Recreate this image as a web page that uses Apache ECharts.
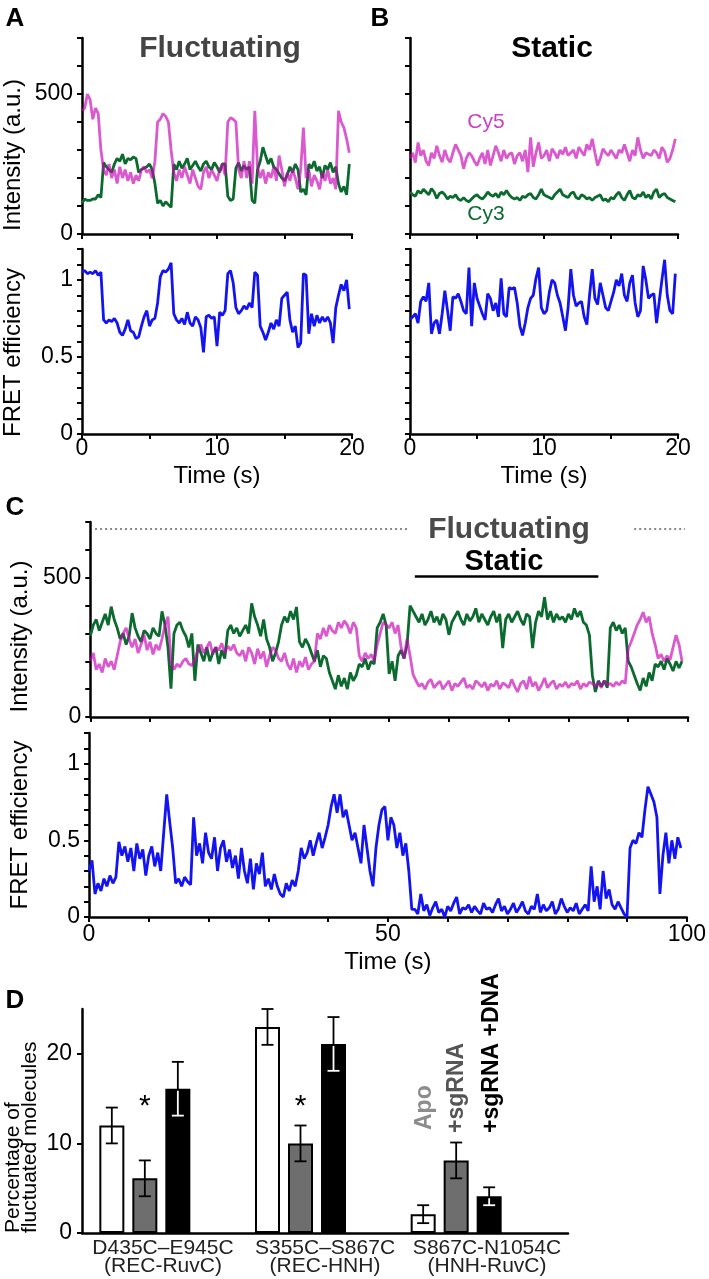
<!DOCTYPE html>
<html>
<head>
<meta charset="utf-8">
<script src="https://cdn.jsdelivr.net/npm/echarts@6/dist/echarts.min.js"></script>
<style>
html, body { margin: 0; padding: 0; background: #fff; }
#chart { width: 709px; height: 1279px; }
</style>
</head>
<body>
<div id="chart"></div>
<script>
// ---- data ----
// A / B traces: one point every 0.2 s, C traces: one point every 0.5 s
const stepAB = 0.2
const stepC = 0.5

const fluctCy5 = [440,450,500,480,410,450,430,300,230,210,
  250,200,230,180,240,200,230,190,220,180,
  210,190,230,240,220,230,200,260,400,410,
  430,420,400,300,220,190,230,200,240,210,
  180,230,200,170,160,220,240,200,230,210,
  190,230,250,210,400,415,410,400,230,200,
  260,200,260,180,440,240,200,230,180,220,
  200,240,190,280,230,170,220,190,230,200,
  160,230,380,200,230,170,210,190,160,220,
  190,230,180,200,160,440,400,380,340,290]
const fluctCy3 = [110,125,120,120,125,125,140,130,255,240,
  230,220,250,270,260,285,250,270,265,275,
  270,220,230,235,240,250,230,180,110,120,
  100,115,105,95,250,230,260,235,250,270,
  230,245,260,240,225,250,260,240,230,255,
  240,220,250,250,135,120,125,235,255,225,
  245,230,240,120,110,230,260,310,280,250,
  270,240,230,215,200,190,210,240,220,250,
  230,150,160,140,250,235,260,225,240,200,
  245,230,255,220,240,180,150,170,140,250]
const fluctFret = [1.05,1.06,1.04,1.05,1.04,1.06,1.03,1.05,0.74,0.72,
  0.74,0.73,0.75,0.72,0.66,0.64,0.68,0.74,0.67,0.66,
  0.62,0.63,0.70,0.76,0.80,0.70,0.74,0.75,0.85,1.02,
  1.06,1.05,1.07,1.11,0.78,0.74,0.72,0.75,0.71,0.79,
  0.72,0.70,0.76,0.74,0.69,0.53,0.76,0.77,0.75,0.76,
  0.57,0.79,0.77,0.80,1.04,1.06,0.98,0.82,0.78,0.80,
  0.83,0.81,0.85,0.82,1.05,1.03,0.70,0.66,0.61,0.66,
  0.72,0.68,0.74,0.70,0.88,0.90,0.92,0.74,0.66,0.70,
  0.56,0.59,1.04,1.03,0.65,0.78,0.70,0.77,0.72,0.76,
  0.73,0.76,0.72,0.59,0.82,0.90,0.97,0.93,1.00,0.81]

const staticCy5 = [270,290,255,327,280,300,260,245,290,270,
  315,280,256,300,270,256,290,320,300,280,
  233,270,290,280,260,245,270,290,250,300,
  245,280,315,290,260,300,270,285,290,250,
  280,290,260,300,221,345,240,290,327,270,
  280,300,260,304,290,270,300,285,310,280,
  290,300,270,310,295,280,320,300,340,290,
  245,270,304,290,280,300,285,270,300,290,
  320,290,260,300,280,345,300,270,290,285,
  280,300,290,270,310,295,256,270,300,340]
const staticCy3 = [150,140,135,155,145,160,150,140,162,150,
  127,145,150,140,125,135,130,140,125,120,
  130,120,115,125,135,140,130,125,135,150,
  140,135,145,130,150,140,155,140,130,125,
  130,120,135,130,140,145,130,125,140,160,
  140,135,130,125,140,150,160,140,135,130,
  145,150,130,125,140,135,125,130,120,130,
  135,140,120,125,115,130,125,140,150,130,
  120,140,155,130,125,140,135,150,130,140,
  125,150,160,130,140,145,130,125,120,115]
const staticFret = [0.74,0.76,0.78,0.72,0.86,0.89,0.86,0.98,0.65,0.72,
  0.74,0.65,0.78,0.93,0.80,0.67,0.89,0.88,0.91,0.86,
  0.80,0.78,1.08,0.70,0.98,0.88,0.83,0.78,0.74,0.91,
  0.88,0.80,0.85,0.76,1.01,0.78,0.76,0.95,0.94,0.95,
  0.85,0.70,0.64,0.72,0.82,0.88,0.90,1.01,1.08,0.82,
  0.78,0.80,0.92,1.00,0.98,0.90,0.85,0.76,0.67,0.82,
  1.07,0.90,0.83,0.85,0.86,0.76,0.71,0.90,1.07,0.88,
  0.84,0.98,0.90,0.82,0.80,0.86,0.92,1.00,0.96,1.04,
  0.90,0.86,0.98,1.03,0.85,0.76,0.80,1.09,1.00,0.88,
  0.90,0.91,0.72,0.86,1.00,1.13,0.90,0.80,0.78,1.04]

const longCy3 = [290,330,350,310,340,370,330,396,350,320,
  280,300,260,290,
  373,320,290,270,310,300,
  280,320,300,290,
  379,330,250,
  102,
  300,330,340,310,
  290,250,300,130,
  260,230,200,250,
  200,230,250,190,240,210,
  310,330,300,320,
  290,310,330,300,408,360,
  330,290,350,280,
  250,200,230,270,
  330,360,340,380,350,395,
  270,250,280,260,
  230,200,240,180,220,210,
  160,130,100,150,110,140,100,160,130,150,
  190,180,210,170,200,190,
  320,340,370,330,
  155,200,130,220,
  240,210,260,
  400,380,
  360,340,370,330,350,380,340,360,330,370,350,295,340,360,380,350,330,370,345,360,390,340,370,350,330,360,380,340,370,247,350,
  370,340,360,380,350,330,370,360,247,340,380,360,430,350,380,340,370,350,360,340,
  370,350,390,360,380,340,
  330,295,
  150,90,130,
  110,130,105,
  320,340,310,330,300,320,
  200,180,
  150,120,95,140,110,160,130,190,
  180,200,170,210,190,165,200,176,200]
const longCy5 = [200,230,170,190,160,210,180,200,170,220,
  270,300,320,280,
  250,280,230,260,295,240,270,225,260,240,
  280,330,360,
  200,170,190,
  180,200,210,190,185,205,
  240,260,230,250,270,225,250,240,265,230,255,240,260,230,
  220,240,200,250,230,190,245,210,235,180,220,250,240,210,200,230,
  190,170,210,160,200,180,215,170,190,200,
  300,280,320,290,330,310,300,340,
  320,345,330,300,340,320,
  220,200,230,210,225,200,
  260,300,340,330,
  320,340,300,330,
  250,210,280,220,
  153,
  130,110,120,100,125,135,105,118,128,100,
  115,130,95,120,110,125,140,105,115,100,
  130,120,108,125,95,118,110,130,100,122,
  115,105,135,110,90,120,130,100,145,110,
  125,95,115,140,105,120,130,100,118,110,
  125,105,120,115,130,100,120,110,125,
  120,110,125,105,130,115,120,110,125,115,130,120,
  245,270,300,330,
  350,376,340,360,300,260,
  210,225,200,220,205,
  250,294,260,200]
const longFret = [0.30,0.37,
  0.15,0.22,0.17,0.25,
  0.20,0.27,0.22,0.26,
  0.49,0.40,0.46,0.36,
  0.45,0.30,0.48,0.38,0.44,0.27,0.40,0.46,0.33,0.42,
  0.30,0.55,
  0.80,0.62,
  0.45,
  0.22,0.25,0.20,0.26,0.23,0.21,
  0.65,
  0.40,0.48,0.35,0.55,0.42,0.38,0.52,0.30,0.45,0.50,0.36,0.44,
  0.32,0.40,0.25,0.45,0.30,0.22,0.38,0.18,0.35,0.28,0.42,0.20,
  0.25,0.18,0.28,0.20,0.15,0.13,0.22,0.17,0.24,0.20,
  0.30,0.45,
  0.38,0.42,0.50,0.40,0.48,0.55,0.45,0.52,
  0.60,0.72,0.80,0.68,0.80,
  0.65,0.70,0.60,
  0.50,0.55,0.45,0.35,
  0.60,0.45,0.30,0.20,
  0.45,0.60,0.70,0.72,
  0.50,0.65,0.60,0.45,
  0.55,0.40,0.48,
  0.30,0.05,
  0.05,0.02,0.15,0.04,0.08,0.01,0.06,0.10,0.03,0.05,
  0.00,0.07,0.04,0.09,0.13,0.02,0.06,0.05,0.08,0.03,
  0.07,0.04,0.02,0.09,0.05,0.06,0.03,0.08,0.12,0.04,
  0.07,0.02,0.05,0.09,0.03,0.06,0.10,0.04,0.02,0.07,
  0.05,0.15,0.03,0.08,0.04,0.06,0.10,0.02,0.05,0.12,
  0.07,0.03,0.06,0.04,0.09,0.02,0.05,0.08,0.04,
  0.33,0.10,0.20,0.05,0.30,0.12,0.18,
  0.08,0.05,0.10,0.06,0.02,
  0.00,
  0.45,0.50,0.48,0.55,0.52,0.70,
  0.85,0.80,0.75,0.65,
  0.15,
  0.40,0.55,0.35,0.50,0.38,0.52,0.45]

// annotation spans in panel C (seconds) and their heights (a.u.)
const fluctSpans = [[0.8, 53], [91, 99.5]]
const staticSpan = [54.3, 85]
const fluctLevel = 676
const staticLevel = 507

// panel D
const constructs = ['D435C–E945C\n(REC-RuvC)', 'S355C–S867C\n(REC-HNH)', 'S867C-N1054C\n(HNH-RuvC)']
const apo = [12, 23, 2.1]
const apoErr = [2, 2, 1]
const sgRNA = [6.1, 10, 8.1]
const sgRNAErr = [2, 2, 2]
const sgRNADNA = [16.1, 21.1, 4.1]
const sgRNADNAErr = [3, 3, 1]
const starred = [true, true, false]
const starLevel = 15

// ---- styles ----
const FONT = '"Liberation Sans", Arial, Helvetica, sans-serif'
const PINK = 'rgba(200,0,180,0.65)'
const GREEN = '#0b6a2e'
const BLUE = '#1414f0'
const BAR_W = 25
const BAR_PITCH = 33

function toPairs(values, step) {
  return values.map((v, i) => [+(i * step).toFixed(2), v])
}

function labelOnly(list) {
  return (v) => (list.some((l) => Math.abs(l - v) < 1e-6) ? String(v) : '')
}

const axisLine = { show: true, onZero: false, lineStyle: { color: '#000', width: 2.5 } }
const axisTick = { show: true, length: 5, lineStyle: { color: '#000', width: 2 } }

function timeAxis(grid, max, interval, labels, margin, nameGap) {
  return {
    type: 'value', gridIndex: grid, min: 0, max, interval,
    axisLine, axisTick,
    axisLabel: {
      show: !!labels, margin, color: '#000', fontSize: 23, fontFamily: FONT,
      formatter: labels ? labelOnly(labels) : ''
    },
    splitLine: { show: false },
    name: labels ? 'Time (s)' : '',
    nameLocation: 'middle', nameGap,
    nameTextStyle: { color: '#000', fontSize: 24, fontFamily: FONT }
  }
}

function levelAxis(grid, max, interval, labels, name, shift) {
  return {
    type: 'value', gridIndex: grid, min: 0, max, interval,
    axisLine, axisTick,
    axisLabel: {
      show: !!labels, margin: 9, color: '#000', fontSize: 23, fontFamily: FONT,
      formatter: labels ? labelOnly(labels) : ''
    },
    splitLine: { show: false },
    name: name || '',
    nameLocation: 'middle', nameGap: 57, nameRotate: 90,
    nameTextStyle: { color: '#000', fontSize: 24, fontFamily: FONT, padding: [0, shift * 2, 0, 0] }
  }
}

function trace(grid, values, step, color, z) {
  return {
    type: 'line', xAxisIndex: grid, yAxisIndex: grid,
    data: toPairs(values, step),
    showSymbol: false, symbol: 'none', z,
    lineStyle: { color, width: 2.8 },
    silent: true
  }
}

const grids = [
  { left: 81, top: 38, width: 271, height: 196 },   // A intensity
  { left: 81, top: 249, width: 271, height: 185 },  // A FRET
  { left: 410, top: 38, width: 268, height: 196 },  // B intensity
  { left: 410, top: 249, width: 268, height: 185 }, // B FRET
  { left: 80, top: 522, width: 608, height: 195 },  // C intensity
  { left: 80, top: 733, width: 608, height: 184 },  // C FRET
  { left: 82, top: 1009, width: 486, height: 224 }, // D axes
  { left: 67, top: 1009, width: 467, height: 224 }  // D bars
]

const xAxes = [
  timeAxis(0, 20, 5, null, 0, 0),
  timeAxis(1, 20, 5, [0, 10, 20], 3, 30),
  timeAxis(2, 20, 5, null, 0, 0),
  timeAxis(3, 20, 5, [0, 10, 20], 3, 30),
  timeAxis(4, 100, 10, null, 0, 0),
  timeAxis(5, 100, 10, [0, 50, 100], 6, 33),
  {
    type: 'category', gridIndex: 6, data: constructs,
    axisLine, axisTick: { show: false },
    axisLabel: { interval: 0, margin: 6, color: '#222', fontSize: 21, lineHeight: 18, fontFamily: FONT }
  },
  { type: 'category', gridIndex: 7, data: constructs, show: false }
]

const yAxes = [
  levelAxis(0, 700, 100, [0, 500], 'Intensity (a.u.)', 19),
  levelAxis(1, 1.2, 0.1, [0, 0.5, 1], 'FRET efficiency', 11),
  levelAxis(2, 700, 100, null, '', 0),
  levelAxis(3, 1.2, 0.1, null, '', 0),
  levelAxis(4, 700, 100, [0, 500], 'Intensity (a.u.)', 17),
  levelAxis(5, 1.2, 0.1, [0, 0.5, 1], 'FRET efficiency', 0),
  {
    type: 'value', gridIndex: 6, min: 0, max: 25,
    axisLine,
    axisTick: { show: true, length: 5, customValues: [0, 10, 20], lineStyle: { color: '#000', width: 2 } },
    axisLabel: { margin: 10, color: '#000', fontSize: 23, fontFamily: FONT, customValues: [0, 10, 20] },
    splitLine: { show: false }
  },
  { type: 'value', gridIndex: 7, min: 0, max: 25, show: false }
]

// error bar rows: [group, low, high, value, condition, starred]
const errRows = []
;[[apo, apoErr], [sgRNA, sgRNAErr], [sgRNADNA, sgRNADNAErr]].forEach(([vals, errs], k) => {
  vals.forEach((v, i) => {
    errRows.push([i, v - errs[i], v + errs[i], v, k, k === 1 && starred[i] ? 1 : 0])
  })
})

function renderErr(params, api) {
  const cat = api.value(0)
  const k = api.value(4)
  const x = api.coord([cat, 0])[0] + (k - 1) * BAR_PITCH
  const yLo = api.coord([cat, api.value(1)])[1]
  const yHi = api.coord([cat, api.value(2)])[1]
  const yVal = api.coord([cat, api.value(3)])[1]
  const cap = 6
  const seg = (x1, y1, x2, y2, color) => ({
    type: 'line', shape: { x1, y1, x2, y2 },
    style: { stroke: color, lineWidth: 1.8 }
  })
  const children = [
    seg(x, yLo, x, yHi, '#000'),
    seg(x - cap, yLo, x + cap, yLo, '#000'),
    seg(x - cap, yHi, x + cap, yHi, '#000')
  ]
  if (k === 2) {
    // part hidden inside the black bar is drawn white
    children.push(seg(x, yLo, x, Math.max(yVal + 2, yHi), '#fff'))
    children.push(seg(x - cap, yLo, x + cap, yLo, '#fff'))
  }
  if (api.value(5)) {
    const yStar = api.coord([cat, starLevel])[1]
    children.push({
      type: 'text',
      style: { text: '*', x, y: yStar + 8, fill: '#000', font: '30px ' + FONT, align: 'center', verticalAlign: 'middle' }
    })
  }
  return { type: 'group', children }
}

const barStyle = (fill) => ({ color: fill, borderColor: '#000', borderWidth: 2 })

const series = [
  trace(0, fluctCy3, stepAB, GREEN, 2),
  trace(0, fluctCy5, stepAB, PINK, 3),
  trace(1, fluctFret, stepAB, BLUE, 2),
  trace(2, staticCy3, stepAB, GREEN, 2),
  trace(2, staticCy5, stepAB, PINK, 3),
  trace(3, staticFret, stepAB, BLUE, 2),
  trace(4, longCy3, stepC, GREEN, 2),
  Object.assign(trace(4, longCy5, stepC, PINK, 3), {
    markLine: {
      symbol: 'none', silent: true, label: { show: false }, animation: false,
      data: fluctSpans.map((s) => [
        { coord: [s[0], fluctLevel], lineStyle: { type: [2, 3], color: '#888', width: 2 } },
        { coord: [s[1], fluctLevel] }
      ]).concat([[
        { coord: [staticSpan[0], staticLevel], lineStyle: { type: 'solid', color: '#000', width: 2.5 } },
        { coord: [staticSpan[1], staticLevel] }
      ]])
    }
  }),
  trace(5, longFret, stepC, BLUE, 2),
  { type: 'bar', xAxisIndex: 7, yAxisIndex: 7, data: apo, barWidth: BAR_W, barGap: '32%', itemStyle: barStyle('#fff'), silent: true },
  { type: 'bar', xAxisIndex: 7, yAxisIndex: 7, data: sgRNA, barWidth: BAR_W, barGap: '32%', itemStyle: barStyle('#6e6e6e'), silent: true },
  { type: 'bar', xAxisIndex: 7, yAxisIndex: 7, data: sgRNADNA, barWidth: BAR_W, barGap: '32%', itemStyle: barStyle('#000'), silent: true },
  { type: 'custom', xAxisIndex: 7, yAxisIndex: 7, data: errRows, renderItem: renderErr, z: 5, silent: true }
]

function txt(x, y, text, font, fill, extra) {
  return Object.assign({
    type: 'text', x, y, silent: true,
    style: { text, font: font + ' ' + FONT, fill, align: 'center', verticalAlign: 'middle' }
  }, extra || {})
}

function vtxt(x, y, text, font, fill, lineHeight) {
  return {
    type: 'text', x, y, rotation: Math.PI / 2, silent: true,
    style: { text, font: font + ' ' + FONT, fill, align: 'left', verticalAlign: 'middle', lineHeight }
  }
}

const graphic = [
  txt(15, 19, 'A', 'bold 26px', '#000'),
  txt(380, 19, 'B', 'bold 26px', '#000'),
  txt(15, 508, 'C', 'bold 26px', '#000'),
  txt(15, 1001, 'D', 'bold 26px', '#000'),
  txt(220, 49, 'Fluctuating', 'bold 30px', '#444'),
  txt(552, 49, 'Static', 'bold 30px', '#000'),
  txt(509, 530, 'Fluctuating', 'bold 30px', '#4a4a4a'),
  txt(504, 562, 'Static', 'bold 29px', '#000'),
  txt(486, 122, 'Cy5', '21px', '#cc3fbf'),
  txt(486, 214, 'Cy3', '21px', GREEN),
  vtxt(22, 1233, 'Percentage of\nfluctuated molecules', '21px', '#000', 17),
  vtxt(425, 1130, 'Apo', 'bold 23px', '#8c8c8c'),
  vtxt(457, 1133, '+sgRNA', 'bold 23px', '#555'),
  vtxt(492, 1133, '+sgRNA +DNA', 'bold 23px', '#000')
]

const chart = echarts.init(document.getElementById('chart'))
chart.setOption({
  animation: false,
  backgroundColor: '#fff',
  textStyle: { fontFamily: FONT },
  grid: grids,
  xAxis: xAxes,
  yAxis: yAxes,
  series,
  graphic
})
</script>
</body>
</html>
